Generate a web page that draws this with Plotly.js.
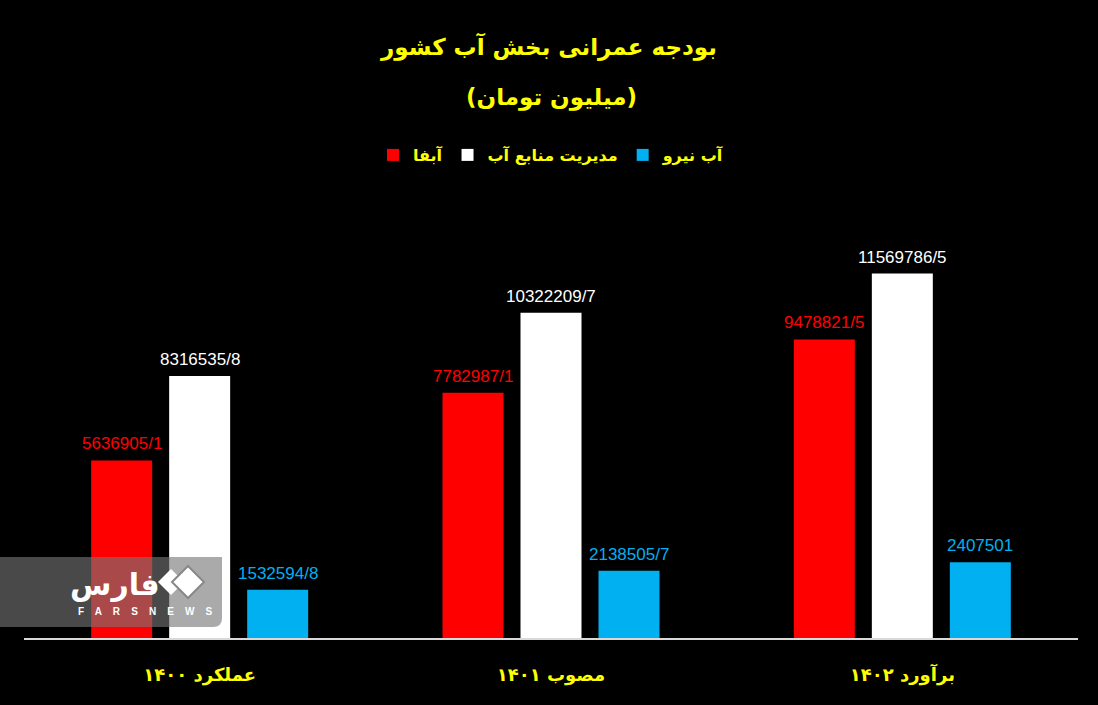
<!DOCTYPE html>
<html>
<head>
<meta charset="utf-8">
<script src="https://cdn.plot.ly/plotly-3.0.1.min.js"></script>
<style>html,body{margin:0;padding:0;background:#000;}#chart{width:1098px;height:705px;}</style>
</head>
<body>
<div id="chart"></div>
<script>
// ---- data ----
const categories = ["عملکرد ۱۴۰۰", "مصوب ۱۴۰۱", "برآورد ۱۴۰۲"];
const seriesNames = ["آبفا", "مدیریت منابع آب", "آب نیرو"];
const abfa = [5636905.1, 7782987.1, 9478821.5];
const manabeAb = [8316535.8, 10322209.7, 11569786.5];
const abNiroo = [1532594.8, 2138505.7, 2407501];
const titleLine1 = "بودجه عمرانی بخش آب کشور";
const titleLine2 = "(میلیون تومان)";

const colors = ["#ff0000", "#ffffff", "#00b0f0"];
const series = [abfa, manabeAb, abNiroo];
const fmt = v => String(v).replace('.', '/');

const traces = series.map((vals, i) => ({
  type: 'bar',
  name: seriesNames[i],
  x: categories,
  y: vals,
  marker: {color: colors[i]},
  hoverinfo: 'none'
}));

const shifts = [-78, 0, 78];
const annotations = [];
series.forEach((vals, i) => {
  vals.forEach((v, j) => {
    annotations.push({
      x: categories[j], y: v, xref: 'x', yref: 'y',
      text: fmt(v), showarrow: false, xanchor: 'center',
      xshift: shifts[i], yshift: 5, yanchor: 'bottom',
      font: {family: 'Liberation Sans, Arial, sans-serif', size: 17, color: colors[i]}
    });
  });
});

annotations.push({
  text: '<b>' + titleLine2 + '</b>', xref: 'paper', yref: 'paper',
  x: 0.5, xanchor: 'center', y: (638 - 97) / 438, yanchor: 'middle', showarrow: false,
  font: {family: 'DejaVu Sans', size: 23, color: '#ffff00'}
});

const px = X => (X - 24) / 1054;
const py = Y => (638 - Y) / 438;

// watermark text
annotations.push({
  text: '<b>فارس</b>', xref: 'paper', yref: 'paper',
  x: px(115), xanchor: 'center', y: py(584), yanchor: 'middle', showarrow: false,
  font: {family: 'DejaVu Sans', size: 30, color: '#ffffff'}
});
annotations.push({
  text: '<b>F    A    R    S    N    E    W    S</b>', xref: 'paper', yref: 'paper',
  x: px(145), xanchor: 'center', y: py(611), yanchor: 'middle', showarrow: false,
  font: {family: 'Liberation Sans', size: 10, color: '#ffffff'}
});

function diamond(cx, cy, r) {
  return `M ${px(cx)} ${py(cy - r)} L ${px(cx + r)} ${py(cy)} L ${px(cx)} ${py(cy + r)} L ${px(cx - r)} ${py(cy)} Z`;
}

const shapes = [
  {type: 'path', xref: 'paper', yref: 'paper', layer: 'above',
   path: `M ${px(0)} ${py(557)} L ${px(222)} ${py(557)} L ${px(222)} ${py(618)} Q ${px(222)} ${py(627)} ${px(213)} ${py(627)} L ${px(0)} ${py(627)} Z`,
   fillcolor: 'rgba(118,118,118,0.62)', line: {width: 0}},
  {type: 'path', xref: 'paper', yref: 'paper', layer: 'above', path: diamond(171, 582, 13),
   fillcolor: '#ffffff', line: {width: 0}},
  {type: 'path', xref: 'paper', yref: 'paper', layer: 'above', path: diamond(188, 582, 16),
   fillcolor: '#ffffff', line: {width: 2, color: '#888888'}}
];

const layout = {
  width: 1098, height: 705,
  paper_bgcolor: '#000000', plot_bgcolor: '#000000',
  margin: {l: 24, r: 20, t: 200, b: 67},
  title: {text: '<b>' + titleLine1 + '</b>', x: 0.5, xanchor: 'center',
          y: (705 - 47) / 705, yanchor: 'middle', yref: 'container',
          font: {family: 'DejaVu Sans', size: 23, color: '#ffff00'}},
  barmode: 'group', bargap: 0.334, bargroupgap: 0.218,
  showlegend: true,
  legend: {orientation: 'h', x: 0.5, xanchor: 'center', yref: 'container',
           y: (705 - 155) / 705, yanchor: 'middle',
           font: {family: 'DejaVu Sans', size: 16, color: '#ffff00', weight: 'bold'},
           bgcolor: 'rgba(0,0,0,0)', itemclick: false},
  xaxis: {showline: true, linecolor: '#d9d9d9', linewidth: 2, ticks: '',
          showgrid: false, zeroline: false, fixedrange: true,
          ticklabelstandoff: 19,
          tickfont: {family: 'DejaVu Sans', size: 18, color: '#ffff00', weight: 'bold'}},
  yaxis: {visible: false, range: [0, 13905000], showgrid: false, zeroline: false},
  annotations: annotations,
  shapes: shapes
};

Plotly.newPlot('chart', traces, layout, {displayModeBar: false, staticPlot: true});
</script>
</body>
</html>
